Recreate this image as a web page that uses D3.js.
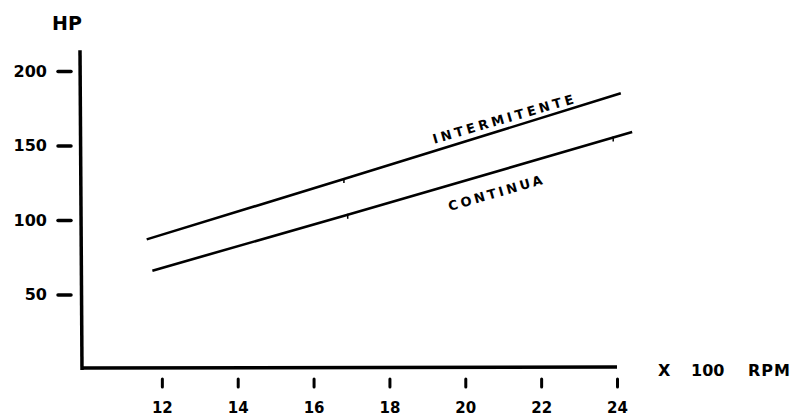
<!DOCTYPE html>
<html>
<head>
<meta charset="utf-8">
<script src="https://cdn.jsdelivr.net/npm/d3@7"></script>
<style>
  html, body { margin: 0; padding: 0; background: #fff; }
  svg { display: block; }
  text { font-family: "DejaVu Sans", sans-serif; font-weight: bold; fill: #000; }
</style>
</head>
<body>
<div id="chart"></div>
<script>
// values
const rpmTicks = [12, 14, 16, 18, 20, 22, 24];
const hpTicks = [50, 100, 150, 200];

const intermitenteRpm = [11.6, 16.8, 24.1];
const intermitenteHp = [87, 127.5, 185];
const continuaRpm = [11.75, 16.9, 23.9, 24.4];
const continuaHp = [66, 103.5, 155.3, 159];

// notches drawn on the lines
const intermitenteMarks = [16.8];
const continuaMarks = [16.9, 23.9];

const width = 808, height = 416;

const svg = d3.select('#chart')
  .append('svg')
  .attr('width', width)
  .attr('height', height);

const x = d3.scaleLinear().domain([10, 24]).range([86, 617]);
const y = d3.scaleLinear().domain([0, 200]).range([369, 71]);

// axis lines
svg.append('line')
  .attr('x1', 80).attr('x2', 82)
  .attr('y1', y(214)).attr('y2', y(0) + 1)
  .attr('stroke', '#000').attr('stroke-width', 3.5);

svg.append('line')
  .attr('x1', 82).attr('x2', x(24))
  .attr('y1', y(0) - 1).attr('y2', y(0) - 2)
  .attr('stroke', '#000').attr('stroke-width', 3.5);

// y ticks: short dashes left of the axis
const yAxis = svg.append('g')
  .attr('transform', 'translate(71,0)')
  .call(d3.axisLeft(y).tickValues(hpTicks).tickSize(13).tickPadding(11));
yAxis.select('.domain').remove();
yAxis.selectAll('line').attr('stroke', '#000').attr('stroke-width', 3.5).attr('stroke-linecap', 'round');
yAxis.selectAll('text')
  .attr('font-size', 16)
  .attr('font-family', '"DejaVu Sans", sans-serif')
  .attr('font-weight', 'bold')
  .attr('fill', '#000');

// x ticks: small marks under the axis
const xAxis = svg.append('g')
  .attr('transform', 'translate(0,379)')
  .call(d3.axisBottom(x).tickValues(rpmTicks).tickSize(8).tickPadding(15));
xAxis.select('.domain').remove();
xAxis.selectAll('line').attr('stroke', '#000').attr('stroke-width', 3).attr('stroke-linecap', 'round');
xAxis.selectAll('text')
  .attr('font-size', 15)
  .attr('font-family', '"DejaVu Sans", sans-serif')
  .attr('font-weight', 'bold')
  .attr('fill', '#000');

// series lines
const line = d3.line().x(d => x(d[0])).y(d => y(d[1]));
const series = [
  { name: 'INTERMITENTE', pts: d3.zip(intermitenteRpm, intermitenteHp), marks: intermitenteMarks },
  { name: 'CONTINUA', pts: d3.zip(continuaRpm, continuaHp), marks: continuaMarks }
];

series.forEach(s => {
  svg.append('path')
    .datum(s.pts)
    .attr('d', line)
    .attr('fill', 'none')
    .attr('stroke', '#000')
    .attr('stroke-width', 2.6);

  const interp = d3.scaleLinear().domain(s.pts.map(p => p[0])).range(s.pts.map(p => p[1]));
  svg.selectAll(null)
    .data(s.marks)
    .join('line')
    .attr('x1', d => x(d)).attr('x2', d => x(d))
    .attr('y1', d => y(interp(d)) - 1).attr('y2', d => y(interp(d)) + 4)
    .attr('stroke', '#000').attr('stroke-width', 1.5);
});

// labels along the lines
function angleOf(pts) {
  const a = pts[0], b = pts[pts.length - 1];
  return Math.atan2(y(b[1]) - y(a[1]), x(b[0]) - x(a[0])) * 180 / Math.PI;
}

svg.append('text')
  .attr('transform', `translate(506,123) rotate(${angleOf(series[0].pts) + 1})`)
  .attr('text-anchor', 'middle')
  .attr('font-size', 13)
  .attr('letter-spacing', 3.5)
  .text('INTERMITENTE');

svg.append('text')
  .attr('transform', `translate(498,197) rotate(${angleOf(series[1].pts)})`)
  .attr('text-anchor', 'middle')
  .attr('font-size', 13)
  .attr('letter-spacing', 3)
  .text('CONTINUA');

// axis titles
svg.append('text')
  .attr('x', 52).attr('y', 30)
  .attr('font-size', 19)
  .text('HP');

svg.append('text').attr('x', 658).attr('y', 376).attr('font-size', 16).text('X');
svg.append('text').attr('x', 691).attr('y', 376).attr('font-size', 16).text('100');
svg.append('text').attr('x', 748).attr('y', 376).attr('font-size', 16).attr('letter-spacing', 1).text('RPM');
</script>
</body>
</html>
